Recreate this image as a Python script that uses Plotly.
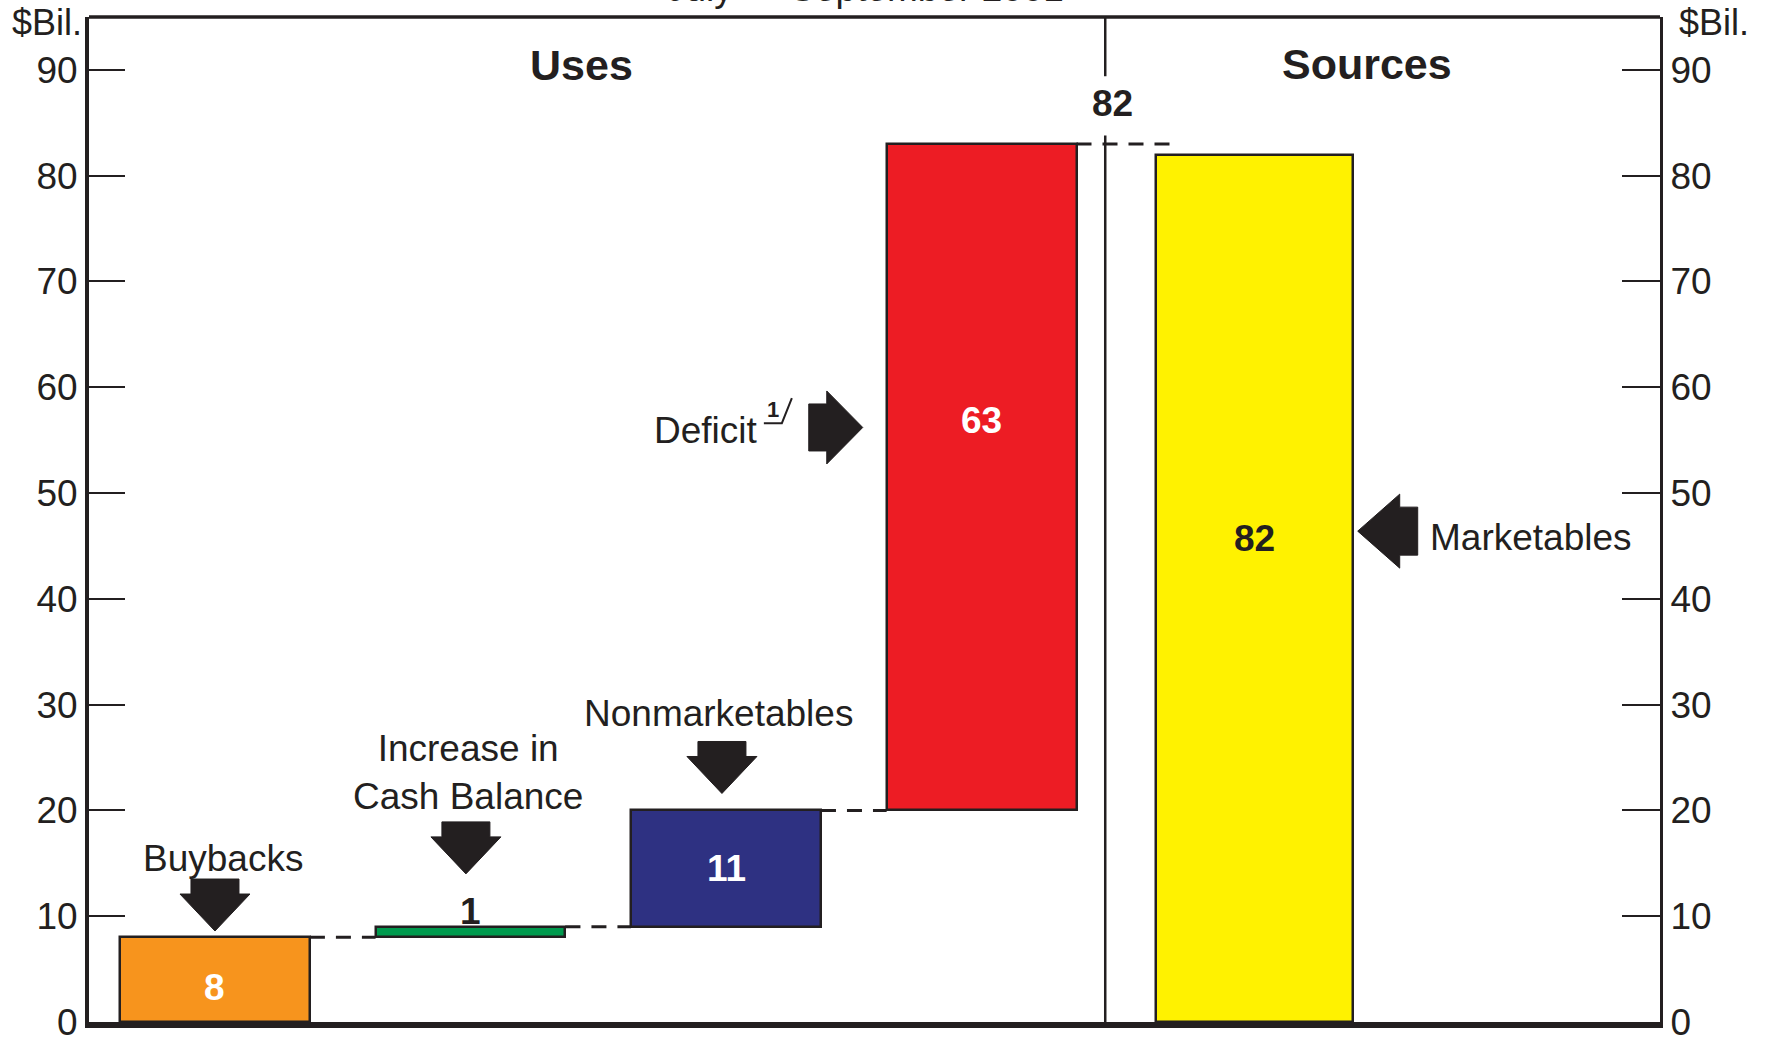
import plotly.graph_objects as go

# ---- data ($ billions) ----
use_names = ["Buybacks", "Increase in<br>Cash Balance", "Nonmarketables", "Deficit"]
use_values = [8, 1, 11, 63]
source_names = ["Marketables"]
source_values = [82]
total_label = "82"
y_ticks = [0, 10, 20, 30, 40, 50, 60, 70, 80, 90]
title_text = "July \u2014 September 2001"

# ---- styling / layout constants ----
INK = "#231F20"
FONT = "Liberation Sans, Arial, Helvetica, sans-serif"
use_colors = ["#F7941D", "#009A4E", "#2E3182", "#ED1C24"]
source_colors = ["#FFF200"]
value_text_colors = ["white", INK, "white", "white"]

use_x = [0, 1, 2, 3]
use_width = 0.743
source_x = [4.067]
source_width = 0.771
divider_x = 3.484
x_range = [-0.493, 5.655]
y_range = [0, 95.0]

LABEL_SIZE = 37
VALUE_SIZE = 37
HEAD_SIZE = 43
TICK_SIZE = 37

# waterfall bases for the uses
bases, running = [], 0
for v in use_values:
    bases.append(running)
    running += v
tops = [b + v for b, v in zip(bases, use_values)]

fig = go.Figure()

# uses (floating waterfall bars)
fig.add_trace(go.Bar(
    x=use_x, y=use_values, base=bases, width=use_width,
    marker=dict(color=use_colors, line=dict(color=INK, width=2.5)),
    hoverinfo="skip", showlegend=False,
))
# sources
fig.add_trace(go.Bar(
    x=source_x, y=source_values, base=[0], width=source_width,
    marker=dict(color=source_colors, line=dict(color=INK, width=2.5)),
    hoverinfo="skip", showlegend=False,
))

# dashed connectors between consecutive bar tops
dash_style = dict(color=INK, width=3, dash="15px,11px")
for i in range(len(use_values) - 1):
    fig.add_trace(go.Scatter(
        x=[use_x[i] + use_width / 2, use_x[i + 1] - use_width / 2],
        y=[tops[i], tops[i]], mode="lines", line=dash_style,
        hoverinfo="skip", showlegend=False,
    ))
fig.add_trace(go.Scatter(
    x=[use_x[-1] + use_width / 2, source_x[0] - source_width / 2 + 0.074],
    y=[tops[-1], tops[-1]], mode="lines", line=dash_style,
    hoverinfo="skip", showlegend=False,
))

annotations = []


def note(text, x, y, size, bold=False, color=INK, xanchor="center", yanchor="middle",
         xref="x", yref="y", xshift=0, yshift=0):
    annotations.append(dict(
        text=f"<b>{text}</b>" if bold else text, x=x, y=y, xref=xref, yref=yref,
        showarrow=False, xanchor=xanchor, yanchor=yanchor, xshift=xshift, yshift=yshift,
        font=dict(family=FONT, size=size, color=color),
    ))


# values on the bars
value_label_y = [3.3, 10.4, 14.5, 56.9]
for x, v, y, c in zip(use_x, use_values, value_label_y, value_text_colors):
    note(str(v), x, y, VALUE_SIZE, bold=True, color=c)
note(str(source_values[0]), source_x[0], 45.7, VALUE_SIZE, bold=True)
note(total_label, divider_x + 0.03, 86.8, VALUE_SIZE, bold=True)

# panel headings
note("Uses", 1.436, 90.5, HEAD_SIZE, bold=True)
note("Sources", 4.509, 90.6, HEAD_SIZE, bold=True)

# category labels
note(use_names[0], 0.03, 15.45, LABEL_SIZE)
note(use_names[1], 0.99, 23.6, LABEL_SIZE)
note(use_names[2], 1.97, 29.2, LABEL_SIZE)
note(use_names[3], 2.133, 55.9, LABEL_SIZE, xanchor="right")
note("1", 2.185, 57.9, 22, bold=True)
note(source_names[0], 4.746, 45.8, LABEL_SIZE, xanchor="left")

# unit labels and title
note("$Bil.", 0, 1, 36, xref="paper", yref="paper", xanchor="right", xshift=-5, yshift=-5)
note("$Bil.", 1, 1, 36, xref="paper", yref="paper", xanchor="left", xshift=17, yshift=-5)
note(title_text, 2.547, 1, 37, yref="paper", yanchor="bottom", yshift=6)

shapes = []


def arrow(path, ax, ay):
    shapes.append(dict(
        type="path", path=path, xref="x", yref="y", xsizemode="pixel", ysizemode="pixel",
        xanchor=ax, yanchor=ay, fillcolor=INK, line=dict(color=INK, width=1),
    ))


down = "M0,0 L-35,37 L-24,37 L-24,52 L24,52 L24,37 L35,37 Z"
right = "M0,0 L-36,36.5 L-36,23.5 L-54,23.5 L-54,-23.5 L-36,-23.5 L-36,-36.5 Z"
left = "M0,0 L42,37 L42,24 L60,24 L60,-24 L42,-24 L42,-37 Z"
arrow(down, 0.0, 8.6)
arrow(down, 0.982, 14.0)
arrow(down, 1.984, 21.6)
arrow(right, 2.535, 56.2)
arrow(left, 4.472, 46.4)

# footnote mark stroke ("1/")
shapes.append(dict(
    type="path", path="M0,0 L18,0 L28,25", xref="x", yref="y",
    xsizemode="pixel", ysizemode="pixel", xanchor=2.148, yanchor=56.6,
    line=dict(color=INK, width=2),
))

# divider between uses and sources, broken around the total
shapes.append(dict(type="line", xref="x", yref="y", x0=divider_x, x1=divider_x,
                   y0=0, y1=83.8, line=dict(color=INK, width=2.5)))
shapes.append(dict(type="line", xref="x", yref="y", x0=divider_x, x1=divider_x,
                   y0=89.4, y1=y_range[1], line=dict(color=INK, width=2.5)))
# top frame
shapes.append(dict(type="line", xref="paper", yref="paper", x0=0, x1=1, y0=1, y1=1,
                   line=dict(color=INK, width=3.5)))

tick_font = dict(family=FONT, size=TICK_SIZE, color=INK)
fig.update_layout(
    width=1765, height=1041,
    margin=dict(l=89, r=104.5, t=17, b=18.5, autoexpand=False),
    paper_bgcolor="white", plot_bgcolor="white",
    bargap=0,
    xaxis=dict(range=x_range, showgrid=False, zeroline=False, showticklabels=False,
               ticks="", showline=True, linewidth=6, linecolor=INK, fixedrange=True,
               automargin=False),
    yaxis=dict(range=y_range, tickvals=y_ticks, showgrid=False, zeroline=False,
               ticks="inside", ticklen=36, tickwidth=2, tickcolor=INK,
               showline=True, linewidth=4, linecolor=INK, tickfont=tick_font,
               automargin=False, ticklabeloverflow="allow"),
    yaxis2=dict(range=y_range, tickvals=y_ticks, overlaying="y", side="right",
                showgrid=False, zeroline=False, ticks="inside", ticklen=38, tickwidth=2,
                tickcolor=INK, showline=True, linewidth=3, linecolor=INK, tickfont=tick_font,
                automargin=False, ticklabeloverflow="allow"),
    annotations=annotations,
    shapes=shapes,
    showlegend=False,
)
# an empty trace so the right-hand axis is drawn
fig.add_trace(go.Scatter(x=[None], y=[None], yaxis="y2", showlegend=False, hoverinfo="skip"))

fig.write_html("out.html")
